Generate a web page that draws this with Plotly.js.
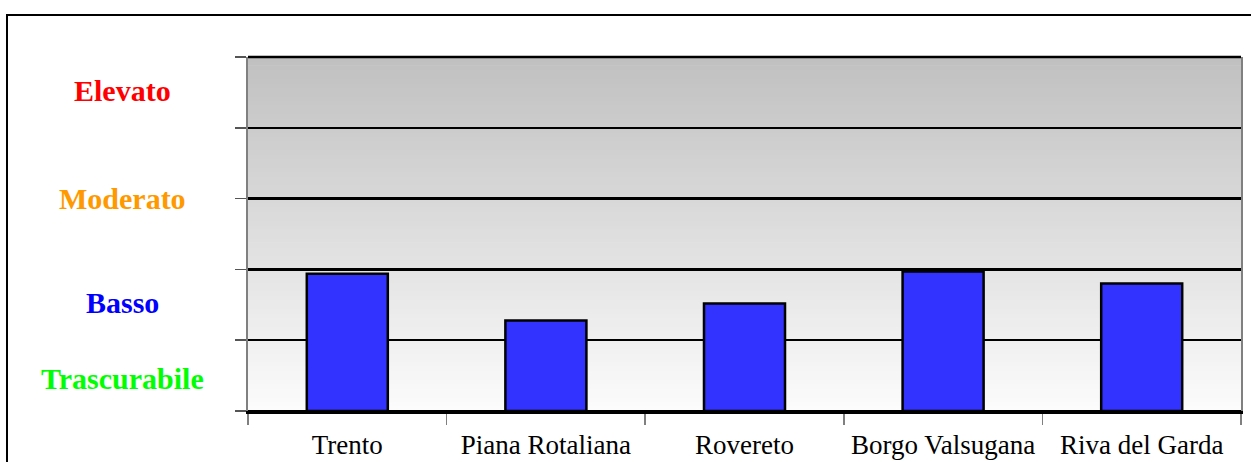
<!DOCTYPE html>
<html>
<head>
<meta charset="utf-8">
<script src="https://cdn.plot.ly/plotly-3.0.1.min.js"></script>
<style>html,body{margin:0;padding:0;background:#fff;}#chart{width:1251px;height:462px;}</style>
</head>
<body>
<div id="chart"></div>
<script>
// Data
const categories = ["Trento", "Piana Rotaliana", "Rovereto", "Borgo Valsugana", "Riva del Garda"];
const values = [1.94, 1.28, 1.52, 1.97, 1.80];
const levelLabels = ["Elevato", "Moderato", "Basso", "Trascurabile"];
const levelColors = ["#ff0000", "#ff9900", "#0000ff", "#00ff00"];
const levelY = [4.53, 3.0, 1.53, 0.46];

// Background gradient strips (style only)
const shapes = [];
const N = 80;
for (let i = 0; i < N; i++) {
  const t = (i + 0.5) / N; // 0 bottom -> 1 top
  const g = Math.round(252 - (252 - 192) * t);
  const c = `rgb(${g},${g},${g})`;
  shapes.push({type: 'rect', xref: 'x domain', yref: 'y domain', x0: 0, x1: 1,
    y0: i / N, y1: (i + 1) / N + 0.002, fillcolor: c, line: {width: 0}, layer: 'below'});
}
// top border line
shapes.push({type: 'line', xref: 'x domain', yref: 'y domain', x0: 0, x1: 1, y0: 1, y1: 1,
  line: {color: '#000', width: 2.5}, layer: 'above'});
// outer frame
shapes.push({type: 'rect', xref: 'paper', yref: 'paper', x0: -0.2427, x1: 1.2, y0: -0.6, y1: 1.1186,
  line: {color: '#000', width: 2}, fillcolor: 'rgba(0,0,0,0)', layer: 'below'});

const annotations = levelLabels.map((t, i) => ({
  text: t, xref: 'paper', yref: 'y', x: -0.1259, y: levelY[i], showarrow: false,
  xanchor: 'center', yanchor: 'middle',
  font: {family: 'Liberation Serif', size: 30, color: levelColors[i], weight: 'bold'}
}));

const trace = {
  type: 'bar', x: categories, y: values,
  marker: {color: '#3333ff', line: {color: '#000', width: 2.5}},
  hoverinfo: 'none'
};

const layout = {
  width: 1251, height: 462,
  margin: {l: 248, r: 10, t: 57, b: 51},
  paper_bgcolor: '#fff', plot_bgcolor: 'rgba(0,0,0,0)',
  showlegend: false, bargap: 0.592,
  font: {family: 'Liberation Serif', color: '#000'},
  xaxis: {type: 'category', tickson: 'boundaries', ticks: 'outside', ticklen: 11,
    tickcolor: '#808080', tickwidth: 1.5, showgrid: false, showline: true,
    linecolor: '#000', linewidth: 2.5, tickfont: {family: 'Liberation Serif', size: 27, color: '#000'},
    ticklabelstandoff: 8, fixedrange: true},
  yaxis: {range: [0, 5], dtick: 1, tick0: 0, showgrid: true, gridcolor: '#000', gridwidth: 2.5,
    zeroline: true, zerolinecolor: '#000', zerolinewidth: 2.5,
    ticks: 'outside', ticklen: 11, tickcolor: '#555', tickwidth: 1.5,
    showticklabels: false, showline: true, linecolor: '#808080', linewidth: 2, mirror: true,
    fixedrange: true},
  shapes: shapes,
  annotations: annotations
};

Plotly.newPlot('chart', [trace], layout, {displayModeBar: false, staticPlot: true});
</script>
</body>
</html>
